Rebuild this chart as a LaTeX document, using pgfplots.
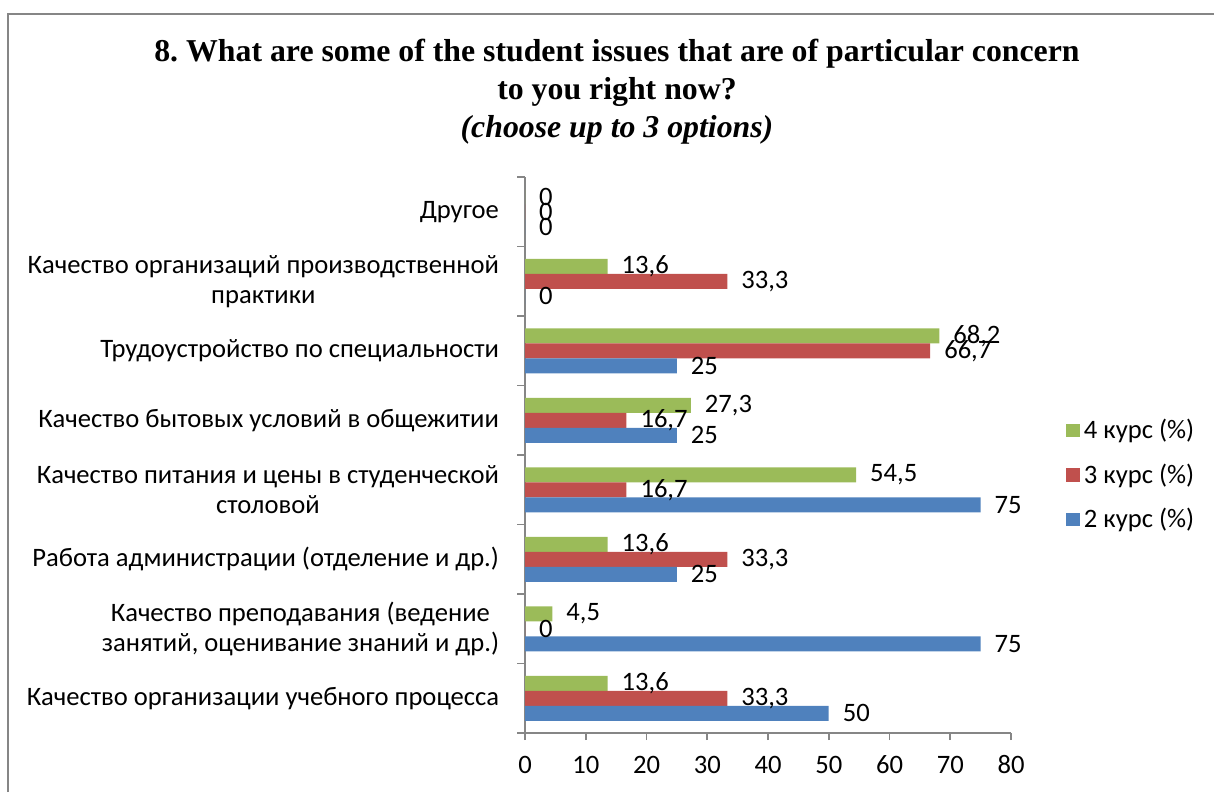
\documentclass[border=0pt]{standalone}
\usepackage{pgfplots}
\pgfplotsset{compat=1.18}
\usepackage{fontspec}
\setmainfont{Carlito}
\newfontfamily\titlefont{Liberation Serif}
\definecolor{g4}{HTML}{9BBB59}
\definecolor{r3}{HTML}{C0504D}
\definecolor{b2}{HTML}{4F81BD}
\definecolor{axgray}{HTML}{868686}
\newcommand\lbl{\fontsize{13.3}{15}\selectfont}
\begin{document}
\frenchspacing
\begin{tikzpicture}
\path[use as bounding box] (0,0) rectangle (607pt,396pt);
\draw[axgray,line width=0.8pt] (4pt,0) -- (4pt,389pt) -- (607pt,389pt);
\node[align=center,font=\titlefont\bfseries\fontsize{15.9}{19}\selectfont] at (308.5pt,350pt)
  {8. What are some of the student issues that are of particular concern\\to you right now?\\\itshape (choose up to 3 options)};
\begin{axis}[
    at={(262.5pt,29.5pt)}, anchor=south west,
    scale only axis, width=243pt, height=278pt,
    xbar, bar width=7.5pt,
    xmin=0, xmax=80, xtick={0,10,...,80},
    ymin=-0.5, ymax=7.5,
    ytick={0,...,7},
    yticklabels={Качество организации учебного процесса,
      {Качество преподавания (ведение\\занятий, оценивание знаний и др.)},
      {Работа администрации (отделение и др.)},
      {Качество питания и цены в студенческой\\столовой},
      Качество бытовых условий в общежитии,
      Трудоустройство по специальности,
      {Качество организаций производственной\\практики},
      Другое},
    minor ytick={-0.5,0.5,...,7.5},
    major y tick style={draw=none},
    tick align=outside,
    major tick length=3.5pt, minor tick length=4pt,
    axis lines*=left,
    axis line style={axgray, line width=0.8pt},
    every tick/.style={axgray, line width=0.8pt},
    every minor tick/.style={axgray, line width=0.8pt},
    tick label style={font=\lbl},
    yticklabel style={align=center, xshift=-6pt},
    xticklabel style={yshift=-4.5pt, text height=8.6pt, text depth=0pt},
    /pgf/number format/assume math mode=true,
    point meta=x,
    nodes near coords,
    nodes near coords style={font=\lbl, anchor=west, xshift=3.5pt,
      /pgf/number format/.cd, fixed, precision=1, use comma},
    legend style={at={(1.1,0.464)}, anchor=west, draw=none, fill=none,
      font=\lbl, row sep=7pt},
    legend cell align=left,
    legend image code/.code={\fill[#1] (0pt,-3.3pt) rectangle (7pt,3.3pt);},
]
\addplot[fill=g4, draw=none, bar shift=7.5pt] coordinates {
  (13.6,0) (4.5,1) (13.6,2) (54.5,3) (27.3,4) (68.2,5) (13.6,6) (0,7)};
\addplot[fill=r3, draw=none, bar shift=0pt] coordinates {
  (33.3,0) (0,1) (33.3,2) (16.7,3) (16.7,4) (66.7,5) (33.3,6) (0,7)};
\addplot[fill=b2, draw=none, bar shift=-7.5pt] coordinates {
  (50,0) (75,1) (25,2) (75,3) (25,4) (25,5) (0,6) (0,7)};
\legend{4 курс (\%), 3 курс (\%), 2 курс (\%)}
\end{axis}
\end{tikzpicture}
\end{document}
